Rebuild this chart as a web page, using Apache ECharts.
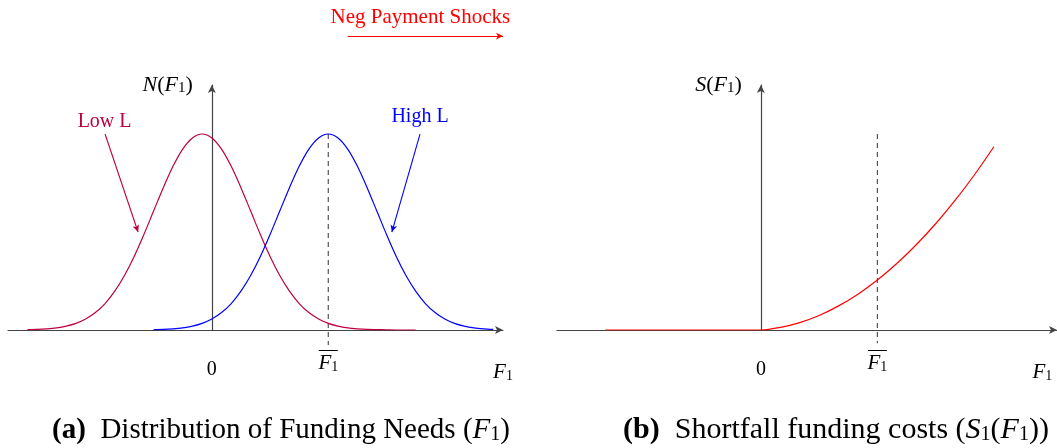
<!DOCTYPE html>
<html>
<head>
<meta charset="utf-8">
<script src="https://cdn.jsdelivr.net/npm/echarts@6/dist/echarts.min.js"></script>
<style>
  html, body { margin: 0; padding: 0; background: #fff; }
  #chart { width: 1057px; height: 448px; }
</style>
</head>
<body>
<div id="chart"></div>
<script>
// tick spots on the F1 axis: origin, F1 bar, axis name
const tickValuesA = [0, 2.4, 6.0]
const tickValuesB = [0, 2.4, 5.8]
const fBar = 2.4

// density of funding needs, low liquidity
const lowX = [-3.8, -3.6, -3.4, -3.2, -3.0, -2.8, -2.6, -2.4, -2.2, -2.0, -1.8, -1.6, -1.4, -1.2, -1.0, -0.8, -0.6, -0.4, -0.2,
  0.0, 0.2, 0.4, 0.6, 0.8, 1.0, 1.2, 1.4, 1.6, 1.8, 2.0, 2.2, 2.4, 2.6, 2.8, 3.0, 3.2, 3.4, 3.6, 3.8, 4.0, 4.2]
const lowY = [0.002, 0.003, 0.006, 0.011, 0.020, 0.034, 0.056, 0.089, 0.135, 0.198, 0.278, 0.375, 0.487, 0.607, 0.726, 0.835, 0.923, 0.980, 1.000,
  0.980, 0.923, 0.835, 0.726, 0.607, 0.487, 0.375, 0.278, 0.198, 0.135, 0.089, 0.056, 0.034, 0.020, 0.011, 0.006, 0.003, 0.002, 0.001, 0.000, 0.000, 0.000]

// density of funding needs, high liquidity
const highX = [-1.2, -1.0, -0.8, -0.6, -0.4, -0.2, 0.0, 0.2, 0.4, 0.6, 0.8, 1.0, 1.2, 1.4, 1.6, 1.8, 2.0, 2.2, 2.4,
  2.6, 2.8, 3.0, 3.2, 3.4, 3.6, 3.8, 4.0, 4.2, 4.4, 4.6, 4.8, 5.0, 5.2, 5.4, 5.6, 5.8]
const highY = [0.002, 0.003, 0.006, 0.011, 0.020, 0.034, 0.056, 0.089, 0.135, 0.198, 0.278, 0.375, 0.487, 0.607, 0.726, 0.835, 0.923, 0.980, 1.000,
  0.980, 0.923, 0.835, 0.726, 0.607, 0.487, 0.375, 0.278, 0.198, 0.135, 0.089, 0.056, 0.034, 0.020, 0.011, 0.006, 0.003]

// shortfall funding cost curve
const costX = [-3.2, 0.0, 0.4, 0.8, 1.2, 1.6, 2.0, 2.4, 2.8, 3.2, 3.6, 4.0, 4.4, 4.8]
const costY = [0.0, 0.0, 0.013, 0.038, 0.074, 0.123, 0.183, 0.255, 0.339, 0.435, 0.542, 0.661, 0.792, 0.935]

// dashed guide at the F1 bar, from the peak to just under the axis
const guideYA = [1.0, -0.077]
const guideYB = [1.0, -0.067]

const zip = (xs, ys) => xs.map((x, i) => [x, ys[i]])

const FONT = 'Liberation Serif'
const AXIS = '#444'
const LOW = '#BF0040'
const HIGH = '#0000FF'
const SHOCK = '#FF0000'

const mathRich = {
  i: { fontStyle: 'italic' },
  s: { fontSize: 15, lineHeight: 12, verticalAlign: 'bottom' }
}

const tickRich = {
  z: { fontSize: 20, padding: [12, 0, 0, 0] },
  ol: { width: 19, height: 1, backgroundColor: '#000', lineHeight: 5 },
  i: { fontSize: 21, fontStyle: 'italic' },
  s: { fontSize: 14, lineHeight: 12, verticalAlign: 'bottom' },
  e: { fontSize: 21, fontStyle: 'italic', padding: [14, 0, 0, 0] },
  es: { fontSize: 14, lineHeight: 12, verticalAlign: 'bottom', padding: [14, 0, 0, 0] }
}

const tickFormatter = v => {
  if (v === 0) return '{z|0}'
  if (v === fBar) return '{ol| }\n{i|F}{s|1}'
  return '{e|F}{es|1}'
}

const makeX = (gridIndex, max, ticks) => ({
  type: 'value',
  gridIndex,
  min: -4.2,
  max,
  axisLine: {
    onZero: false,
    symbol: ['none', 'arrow'],
    symbolSize: [6, 8],
    lineStyle: { color: AXIS, width: 1.2 }
  },
  axisTick: { show: false },
  splitLine: { show: false },
  axisLabel: {
    customValues: ticks,
    showMinLabel: true,
    showMaxLabel: true,
    margin: 18,
    color: '#000',
    fontFamily: FONT,
    fontSize: 20,
    verticalAlign: 'top',
    formatter: tickFormatter,
    rich: tickRich
  }
})

const makeY = (gridIndex, name) => ({
  type: 'value',
  gridIndex,
  min: 0,
  max: 1.25,
  name,
  nameLocation: 'end',
  nameGap: 0,
  nameTextStyle: {
    fontFamily: FONT,
    fontSize: 22,
    color: '#000',
    align: 'right',
    verticalAlign: 'middle',
    padding: [0, 19, 0, 0],
    rich: mathRich
  },
  axisLine: {
    show: true,
    onZero: true,
    symbol: ['none', 'arrow'],
    symbolSize: [6, 8],
    lineStyle: { color: AXIS, width: 1.2 }
  },
  axisTick: { show: false },
  axisLabel: { show: false },
  splitLine: { show: false }
})

// hidden axes spanning the whole left panel height, same scale as grid 0
const hiddenX = { type: 'value', gridIndex: 2, min: -4.2, max: 6.0, show: false }
const hiddenY = { type: 'value', gridIndex: 2, min: -0.602, max: 1.684, show: false }

const arrowLine = (from, to, color) => [
  { coord: from, symbol: 'none', lineStyle: { color, width: 1.1, type: 'solid' } },
  { coord: to, symbol: 'arrow', symbolSize: [5, 7] }
]

const textMark = (coord, text, color, size) => ({
  coord,
  symbol: 'circle',
  symbolSize: 1,
  itemStyle: { color: 'rgba(0,0,0,0)' },
  label: { show: true, position: 'inside', formatter: text, color, fontFamily: FONT, fontSize: size }
})

const captionStyle = size => ({
  fontFamily: FONT,
  fontSize: size,
  fontWeight: 'normal',
  color: '#000',
  rich: {
    b: { fontWeight: 'bold', fontSize: size },
    i: { fontStyle: 'italic', fontSize: size },
    s: { fontSize: Math.round(size * 0.68), lineHeight: 15, verticalAlign: 'bottom' }
  }
})

const chart = echarts.init(document.getElementById('chart'))

chart.setOption({
  animation: false,
  textStyle: { fontFamily: FONT },
  title: [
    {
      text: '{b|(a)}  Distribution of Funding Needs ({i|F}{s|1})',
      left: 276,
      top: 411,
      textAlign: 'center',
      textStyle: captionStyle(29)
    },
    {
      text: '{b|(b)}  Shortfall funding costs ({i|S}{s|1}({i|F}{s|1}))',
      left: 831,
      top: 410,
      textAlign: 'center',
      textStyle: captionStyle(30)
    }
  ],
  grid: [
    { left: 8, right: 554, top: 85, bottom: 118, outerBoundsMode: 'none' },
    { left: 557, right: 0, top: 85, bottom: 118, outerBoundsMode: 'none' },
    { left: 8, right: 554, top: 0, bottom: 0, outerBoundsMode: 'none' }
  ],
  xAxis: [makeX(0, 6.0, tickValuesA), makeX(1, 6.1, tickValuesB), hiddenX],
  yAxis: [makeY(0, '{i|N}({i|F}{s|1})'), makeY(1, '{i|S}({i|F}{s|1})'), hiddenY],
  series: [
    {
      name: 'Low L',
      type: 'line',
      xAxisIndex: 0,
      yAxisIndex: 0,
      data: zip(lowX, lowY),
      smooth: 0.3,
      showSymbol: false,
      lineStyle: { color: LOW, width: 1.2 }
    },
    {
      name: 'High L',
      type: 'line',
      xAxisIndex: 0,
      yAxisIndex: 0,
      data: zip(highX, highY),
      smooth: 0.3,
      showSymbol: false,
      lineStyle: { color: HIGH, width: 1.2 }
    },
    {
      name: 'Guide a',
      type: 'line',
      xAxisIndex: 2,
      yAxisIndex: 2,
      data: zip([fBar, fBar], guideYA),
      showSymbol: false,
      z: 1,
      lineStyle: { color: '#555', width: 1.2, type: [5, 4] },
      markLine: {
        silent: true,
        label: { show: false },
        data: [
          arrowLine([-2.2, 1.0], [-1.52, 0.5], LOW),
          arrowLine([4.29, 1.0], [3.71, 0.5], HIGH),
          [
            {
              coord: [2.8, 1.5],
              symbol: 'none',
              lineStyle: { color: SHOCK, width: 1, type: 'solid' },
              label: {
                show: true,
                position: 'insideMiddleTop',
                distance: 8,
                formatter: 'Neg Payment Shocks',
                color: SHOCK,
                fontFamily: FONT,
                fontSize: 21,
                padding: [0, 10, 0, 0]
              }
            },
            { coord: [6.0, 1.5], symbol: 'arrow', symbolSize: [5, 7] }
          ]
        ]
      },
      markPoint: {
        silent: true,
        data: [
          textMark([-2.21, 1.061], 'Low L', LOW, 20),
          textMark([4.29, 1.087], 'High L', HIGH, 20)
        ]
      }
    },
    {
      name: 'Shortfall cost',
      type: 'line',
      xAxisIndex: 1,
      yAxisIndex: 1,
      data: zip(costX, costY),
      smooth: 0.3,
      showSymbol: false,
      lineStyle: { color: SHOCK, width: 1.2 }
    },
    {
      name: 'Guide b',
      type: 'line',
      xAxisIndex: 1,
      yAxisIndex: 1,
      data: zip([fBar, fBar], guideYB),
      showSymbol: false,
      clip: false,
      z: 1,
      lineStyle: { color: '#555', width: 1.2, type: [5, 4] }
    }
  ]
})
</script>
</body>
</html>
